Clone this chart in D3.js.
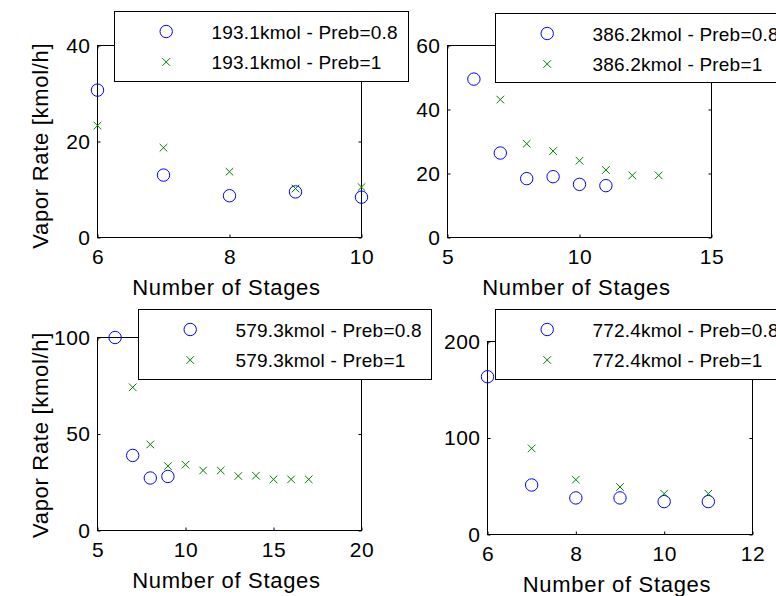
<!DOCTYPE html>
<html>
<head>
<meta charset="utf-8">
<script src="https://cdn.jsdelivr.net/npm/d3@7/dist/d3.min.js"></script>
<style>
  html, body { margin: 0; padding: 0; background: #fff; }
  svg { display: block; font-family: "Liberation Sans", Arial, sans-serif; }
</style>
</head>
<body>
<svg id="chart" width="776" height="596"></svg>
<script>
// ---- data: vapor rate [kmol/h] versus number of stages ----
const feeds = ["193.1kmol", "386.2kmol", "579.3kmol", "772.4kmol"];
const prebLabels = ["Preb=0.8", "Preb=1"];

const stages193_08 = [6, 7, 8, 9, 10];
const vapor193_08  = [30.7, 13.0, 8.7, 9.5, 8.4];
const stages193_1  = [6, 7, 8, 9, 10];
const vapor193_1   = [23.3, 18.7, 13.7, 10.2, 10.5];

const stages386_08 = [6, 7, 8, 9, 10, 11];
const vapor386_08  = [49.5, 26.4, 18.4, 19.0, 16.6, 16.2];
const stages386_1  = [7, 8, 9, 10, 11, 12, 13];
const vapor386_1   = [43.1, 29.3, 27.0, 24.0, 21.1, 19.4, 19.4];

const stages579_08 = [6, 7, 8, 9];
const vapor579_08  = [100, 38.9, 27.2, 28.0];
const stages579_1  = [7, 8, 9, 10, 11, 12, 13, 14, 15, 16, 17];
const vapor579_1   = [74.2, 44.6, 33.4, 34.1, 31.1, 31.1, 28.2, 28.4, 26.5, 26.5, 26.5];

const stages772_08 = [6, 7, 8, 9, 10, 11];
const vapor772_08  = [163.5, 51.3, 37.9, 37.9, 34.1, 34.1];
const stages772_1  = [7, 8, 9, 10, 11];
const vapor772_1   = [89.2, 56.8, 49.2, 42.3, 42.3];

// axis limits and tick values
const xDomains = [[6, 10], [5, 15], [5, 20], [6, 12]];
const yDomains = [[0, 40], [0, 60], [0, 100], [0, 200]];
const xTicks = [[6, 8, 10], [5, 10, 15], [5, 10, 15, 20], [6, 8, 10, 12]];
const yTicks = [[0, 20, 40], [0, 20, 40, 60], [0, 50, 100], [0, 100, 200]];

const xLabel = "Number of Stages";
const yLabel = "Vapor Rate [kmol/h]";

// ---- layout ----
const panels = [
  { box: [97.5, 361.5, 45.5, 237.5], legend: [114.5, 11.5, 294, 70], yLab: [48, 145.7],
    s08: [stages193_08, vapor193_08], s1: [stages193_1, vapor193_1] },
  { box: [447.5, 711.5, 45.5, 237.5], legend: [495.5, 13.5, 294, 69], yLab: null,
    s08: [stages386_08, vapor386_08], s1: [stages386_1, vapor386_1] },
  { box: [97.5, 361.5, 337.5, 530.5], legend: [138.5, 309.5, 293, 70], yLab: [48, 435],
    s08: [stages579_08, vapor579_08], s1: [stages579_1, vapor579_1] },
  { box: [487.5, 752.5, 341.5, 534.5], legend: [495.5, 309.5, 294, 70], yLab: null,
    s08: [stages772_08, vapor772_08], s1: [stages772_1, vapor772_1] }
];

const svg = d3.select("#chart");
const blue = "#0000ff", green = "#008000";
const tickFont = 21, labelFont = 22, legendFont = 19;
const circleR = 6.2, crossH = 3.8;

function crossPath(cx, cy) {
  return `M${cx - crossH},${cy - crossH}L${cx + crossH},${cy + crossH}M${cx - crossH},${cy + crossH}L${cx + crossH},${cy - crossH}`;
}

const axesLayer = svg.append("g");
const legendLayer = svg.append("g");

panels.forEach((p, i) => {
  const [x0, x1, y0, y1] = p.box;
  const x = d3.scaleLinear().domain(xDomains[i]).range([x0, x1]);
  const y = d3.scaleLinear().domain(yDomains[i]).range([y1, y0]);
  const g = axesLayer.append("g");

  g.append("rect").attr("x", x0).attr("y", y0)
    .attr("width", x1 - x0).attr("height", y1 - y0)
    .attr("fill", "#fff").attr("stroke", "none");

  // inward ticks on all four sides, labels on bottom and left
  const bottom = d3.axisBottom(x).tickValues(xTicks[i]).tickSizeInner(-3).tickSizeOuter(0).tickPadding(11).tickFormat(d3.format("d"));
  const top = d3.axisTop(x).tickValues(xTicks[i]).tickSizeInner(-3).tickSizeOuter(0).tickFormat("");
  const left = d3.axisLeft(y).tickValues(yTicks[i]).tickSizeInner(-3).tickSizeOuter(0).tickPadding(7).tickFormat(d3.format("d"));
  const right = d3.axisRight(y).tickValues(yTicks[i]).tickSizeInner(-3).tickSizeOuter(0).tickFormat("");

  const axB = g.append("g").attr("transform", `translate(0,${y1})`).call(bottom);
  const axT = g.append("g").attr("transform", `translate(0,${y0})`).call(top);
  const axL = g.append("g").attr("transform", `translate(${x0},0)`).call(left);
  const axR = g.append("g").attr("transform", `translate(${x1},0)`).call(right);
  [axB, axT, axL, axR].forEach(a => {
    a.select(".domain").remove();
    a.selectAll("line").attr("stroke", "#000").attr("stroke-width", 1);
    a.selectAll("text").attr("fill", "#000").attr("font-size", tickFont)
      .attr("font-family", "Liberation Sans, Arial, sans-serif").attr("letter-spacing", 0.5);
  });
  axB.selectAll("text").attr("dy", null).attr("y", 26);

  g.append("rect").attr("x", x0).attr("y", y0)
    .attr("width", x1 - x0).attr("height", y1 - y0)
    .attr("fill", "none").attr("stroke", "#000").attr("stroke-width", 1);

  // axis titles
  g.append("text").attr("x", (x0 + x1) / 2 - 3).attr("y", y1 + 57.7)
    .attr("text-anchor", "middle").attr("font-size", labelFont).attr("letter-spacing", 0.7)
    .attr("fill", "#000").text(xLabel);
  if (p.yLab) {
    g.append("text")
      .attr("transform", `translate(${p.yLab[0]},${p.yLab[1]}) rotate(-90)`)
      .attr("text-anchor", "middle").attr("font-size", labelFont).attr("letter-spacing", 0.7)
      .attr("fill", "#000").text(yLabel);
  }

  // Preb = 0.8 : blue circles
  const pts08 = p.s08[0].map((s, k) => [s, p.s08[1][k]]);
  g.append("g").selectAll("circle").data(pts08).join("circle")
    .attr("cx", d => x(d[0])).attr("cy", d => y(d[1])).attr("r", circleR)
    .attr("fill", "none").attr("stroke", blue).attr("stroke-width", 1);

  // Preb = 1 : green crosses
  const pts1 = p.s1[0].map((s, k) => [s, p.s1[1][k]]);
  g.append("g").selectAll("path").data(pts1).join("path")
    .attr("d", d => crossPath(x(d[0]), y(d[1])))
    .attr("fill", "none").attr("stroke", green).attr("stroke-width", 1);

  // legend
  const [lx, ly, lw, lh] = p.legend;
  const lg = legendLayer.append("g");
  lg.append("rect").attr("x", lx).attr("y", ly).attr("width", lw).attr("height", lh)
    .attr("fill", "#fff").attr("stroke", "#000").attr("stroke-width", 1);
  const rows = [ly + 20, ly + 50.5];
  lg.append("circle").attr("cx", lx + 51.7).attr("cy", rows[0]).attr("r", circleR)
    .attr("fill", "none").attr("stroke", blue).attr("stroke-width", 1);
  lg.append("path").attr("d", crossPath(lx + 51.7, rows[1]))
    .attr("fill", "none").attr("stroke", green).attr("stroke-width", 1);
  prebLabels.forEach((pl, k) => {
    lg.append("text").attr("x", lx + 97).attr("y", rows[k] + 7)
      .attr("font-size", legendFont).attr("letter-spacing", 0.2).attr("fill", "#000")
      .text(`${feeds[i]} - ${pl}`);
  });
});
</script>
</body>
</html>
